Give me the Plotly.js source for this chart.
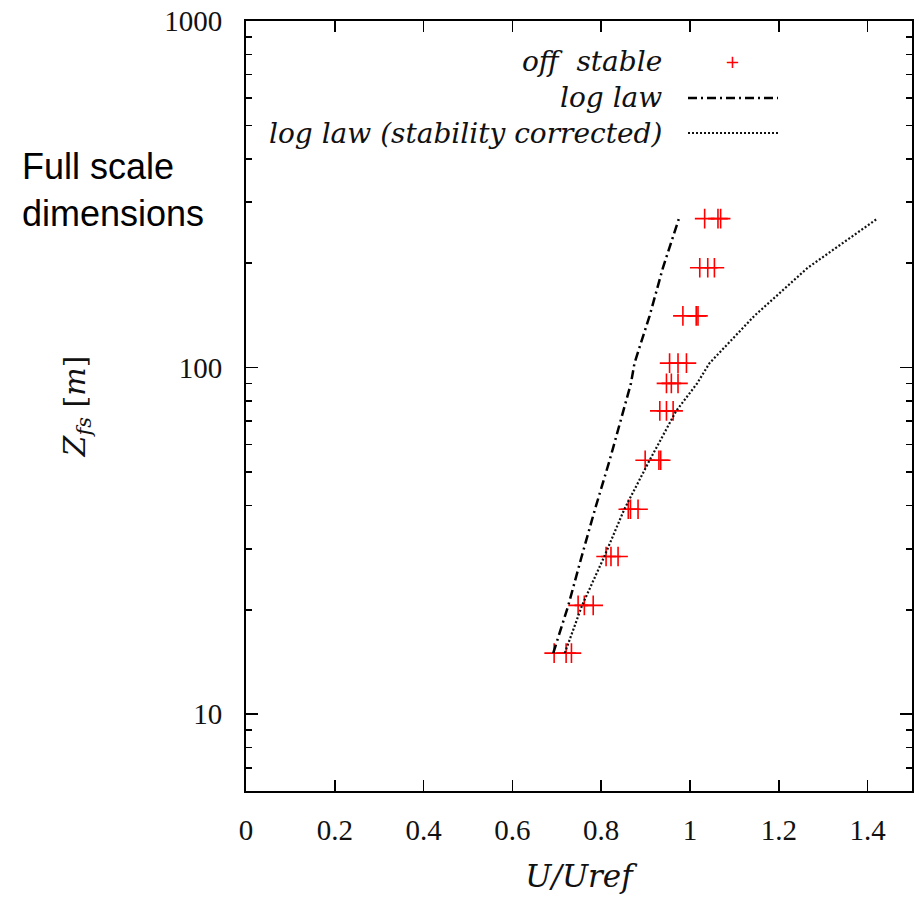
<!DOCTYPE html>
<html><head><meta charset="utf-8">
<script src="https://cdn.plot.ly/plotly-3.0.1.min.js"></script>
<style>body{margin:0;background:#fff}#c{width:919px;height:901px}</style>
</head><body><div id="c"></div>
<script>
// Heights (full scale, m)
const zLevels = [15, 20.6, 28.5, 39, 54, 75, 90, 103, 141, 194, 269];
// Measured U/Uref, three repeats per height
const offStable1 = [0.694, 0.748, 0.811, 0.861, 0.899, 0.932, 0.947, 0.954, 0.984, 1.022, 1.033];
const offStable2 = [0.721, 0.762, 0.822, 0.866, 0.930, 0.947, 0.958, 0.973, 1.014, 1.040, 1.063];
const offStable3 = [0.733, 0.782, 0.838, 0.883, 0.934, 0.962, 0.973, 0.992, 1.018, 1.055, 1.069];
// Log law profile
const logLaw = [0.692, 0.726, 0.756, 0.786, 0.819, 0.849, 0.867, 0.875, 0.909, 0.939, 0.975];
// Log law, stability corrected
const logLawStab = [0.718, 0.757, 0.807, 0.852, 0.909, 0.969, 1.016, 1.044, 1.145, 1.265, 1.422];

const xTicks = [0, 0.2, 0.4, 0.6, 0.8, 1, 1.2, 1.4];
const xTickText = ['0', '0.2', '0.4', '0.6', '0.8', '1', '1.2', '1.4'];
const yTicks = [10, 100, 1000];
const yTickText = ['10', '100', '1000'];
const yMinor = [6, 7, 8, 9, 20, 30, 40, 50, 60, 70, 80, 90, 200, 300, 400, 500, 600, 700, 800, 900];

const serif = 'Liberation Serif, DejaVu Serif, serif';
const mathSerif = 'DejaVu Serif, Liberation Serif, serif';

const markerStyle = {symbol: 'cross-thin', size: 14, color: '#ff0000', line: {color: '#ff0000', width: 1.6}};
const traces = [
  {x: offStable1, y: zLevels, mode: 'markers', marker: markerStyle, showlegend: false},
  {x: offStable2, y: zLevels, mode: 'markers', marker: markerStyle, showlegend: false},
  {x: offStable3, y: zLevels, mode: 'markers', marker: markerStyle, showlegend: false},
  {x: logLaw, y: zLevels, mode: 'lines', line: {color: '#000', width: 2.5, dash: '9px,4px,2px,4px'}, showlegend: false},
  {x: logLawStab, y: zLevels, mode: 'lines', line: {color: '#111', width: 2.2, dash: '2px,2px'}, showlegend: false}
];

const py = v => 1 - (v - 21) / 770;
const px = v => (v - 246) / 666;
const lx0 = px(688), lx1 = px(778);
const layout = {
  width: 919, height: 901,
  margin: {l: 246, r: 7, t: 21, b: 110},
  paper_bgcolor: '#fff', plot_bgcolor: '#fff',
  showlegend: false,
  xaxis: {
    range: [0, 1.5], tickvals: xTicks, ticktext: xTickText,
    ticks: 'inside', ticklen: 11, tickwidth: 1.5, tickcolor: '#000',
    showline: true, linecolor: '#000', linewidth: 2, mirror: 'allticks',
    showgrid: false, zeroline: false,
    tickfont: {family: serif, size: 29, color: '#111'},
    ticklabelstandoff: 12,
    title: {text: '<i>U/Uref</i>', font: {family: mathSerif, size: 31, color: '#111'}, standoff: 21}
  },
  yaxis: {
    type: 'log', range: [Math.log10(6), 3], tickvals: yTicks, ticktext: yTickText,
    ticks: 'inside', ticklen: 12, tickwidth: 1.5, tickcolor: '#000',
    minor: {tickvals: yMinor, ticks: 'inside', ticklen: 6, tickwidth: 1.5, tickcolor: '#000'},
    showline: true, linecolor: '#000', linewidth: 2, mirror: 'allticks',
    showgrid: false, zeroline: false,
    tickfont: {family: serif, size: 29, color: '#111'},
    ticklabelstandoff: 16,
    title: {text: '<i>Z</i><sub><i>fs</i></sub> [<i>m</i>]', font: {family: mathSerif, size: 30, color: '#111'}, standoff: 70}
  },
  annotations: [
    {xref: 'paper', yref: 'paper', x: px(20), y: py(190), xanchor: 'left', yanchor: 'middle', align: 'left',
     text: 'Full scale<br>dimensions', showarrow: false, font: {family: 'Liberation Sans, Arial, sans-serif', size: 36, color: '#000'}},
    {xref: 'paper', yref: 'paper', x: px(664), y: py(62), xanchor: 'right', yanchor: 'middle',
     text: '<i>off  stable</i>', showarrow: false, font: {family: mathSerif, size: 28, color: '#111'}},
    {xref: 'paper', yref: 'paper', x: px(664), y: py(98), xanchor: 'right', yanchor: 'middle',
     text: '<i>log law</i>', showarrow: false, font: {family: mathSerif, size: 28, color: '#111'}},
    {xref: 'paper', yref: 'paper', x: px(664), y: py(133), xanchor: 'right', yanchor: 'middle',
     text: '<i>log law (stability corrected)</i>', showarrow: false, font: {family: mathSerif, size: 28, color: '#111'}},
    {xref: 'paper', yref: 'paper', x: px(732), y: py(62), xanchor: 'center', yanchor: 'middle',
     text: '+', showarrow: false, font: {family: 'DejaVu Sans, sans-serif', size: 18, color: '#ff0000'}}
  ],
  shapes: [
    {type: 'line', xref: 'paper', yref: 'paper', x0: lx0, x1: lx1, y0: py(98), y1: py(98),
     line: {color: '#000', width: 2.5, dash: '9px,4px,2px,4px'}},
    {type: 'line', xref: 'paper', yref: 'paper', x0: lx0, x1: lx1, y0: py(133), y1: py(133),
     line: {color: '#111', width: 2, dash: '2px,2px'}}
  ]
};
Plotly.newPlot('c', traces, layout, {displayModeBar: false, staticPlot: true});
</script></body></html>
